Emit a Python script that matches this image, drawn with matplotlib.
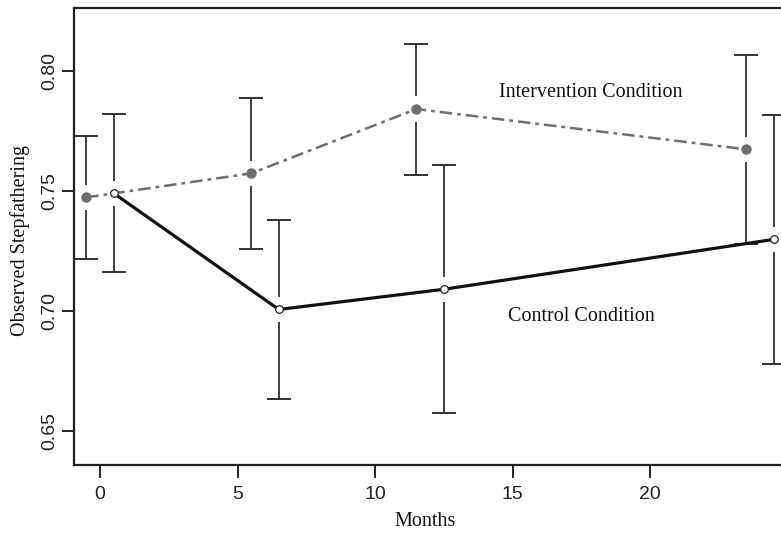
import matplotlib
matplotlib.use("Agg")
import matplotlib.pyplot as plt
import numpy as np

# Data
int_months = [-0.5, 5.5, 11.5, 23.5]
int_means = [0.7475, 0.7575, 0.7843, 0.7675]
int_err = [0.0257, 0.0315, 0.0273, 0.0393]

ctl_months = [0.5, 6.5, 12.5, 24.5]
ctl_means = [0.7492, 0.7008, 0.7092, 0.7300]
ctl_err = [0.0330, 0.0374, 0.0517, 0.0518]

xticks = [0, 5, 10, 15, 20]
yticks = [0.65, 0.70, 0.75, 0.80]

serif = ["Liberation Serif", "DejaVu Serif"]
sans = ["Liberation Sans", "DejaVu Sans"]

fig = plt.figure(figsize=(7.81, 5.33), dpi=100)
ax = fig.add_axes([74 / 781, 1 - 465 / 533, 1 - 74 / 781, (465 - 7.5) / 533])

ax.set_xlim(-0.945, 24.76)
ax.set_ylim(0.636, 0.8266)

gap = 0.0053
ebcol = "#303030"


def draw_errbars(xs, ys, es):
    xs = np.asarray(xs)
    ys = np.asarray(ys)
    es = np.asarray(es)
    ax.vlines(xs, ys + gap, ys + es, color=ebcol, lw=1.3, zorder=2)
    ax.vlines(xs, ys - es, ys - gap, color=ebcol, lw=1.3, zorder=2)
    ax.plot(xs, ys + es, ls="none", marker="_", ms=17, mew=1.4, color=ebcol, zorder=2)
    ax.plot(xs, ys - es, ls="none", marker="_", ms=17, mew=1.4, color=ebcol, zorder=2)


draw_errbars(int_months, int_means, int_err)
draw_errbars(ctl_months, ctl_means, ctl_err)

ax.plot(int_months, int_means, color="#6e6e6e", lw=1.8, ls=(0, (5, 2, 1.5, 2)),
        marker="o", ms=6.5, mfc="#6e6e6e", mec="#6e6e6e", zorder=3)
ax.plot(ctl_months, ctl_means, color="#111111", lw=2.3, ls="-",
        marker="o", ms=5.5, mfc="white", mec="#222222", mew=0.9, zorder=4)

ax.text(17.85, 0.791, "Intervention Condition", family=serif, fontsize=14.5,
        ha="center", va="center", color="#111111")
ax.text(17.5, 0.6977, "Control Condition", family=serif, fontsize=14.5,
        ha="center", va="center", color="#111111")

ax.set_xticks(xticks)
ax.set_xticklabels([str(t) for t in xticks], family=sans, fontsize=14, color="#222222")
ax.set_yticks(yticks)
ax.set_yticklabels([f"{t:.2f}" for t in yticks], family=sans, fontsize=14,
                   rotation=90, va="center", color="#222222")
ax.tick_params(axis="both", length=9, width=1.4, direction="out", color="#222222")
ax.tick_params(axis="x", pad=6)
ax.tick_params(axis="y", pad=2)

for s in ["left", "bottom", "top"]:
    ax.spines[s].set_linewidth(1.6)
    ax.spines[s].set_color("#222222")
ax.spines["right"].set_visible(False)

ax.set_xlabel("Months", family=serif, fontsize=14.5, color="#111111")
ax.xaxis.set_label_coords(0.497, -0.102)
ax.set_ylabel("Observed Stepfathering", family=serif, fontsize=14.5, color="#111111")
ax.yaxis.set_label_coords(-0.062, 0.49)

fig.savefig("out.png", dpi=100)
